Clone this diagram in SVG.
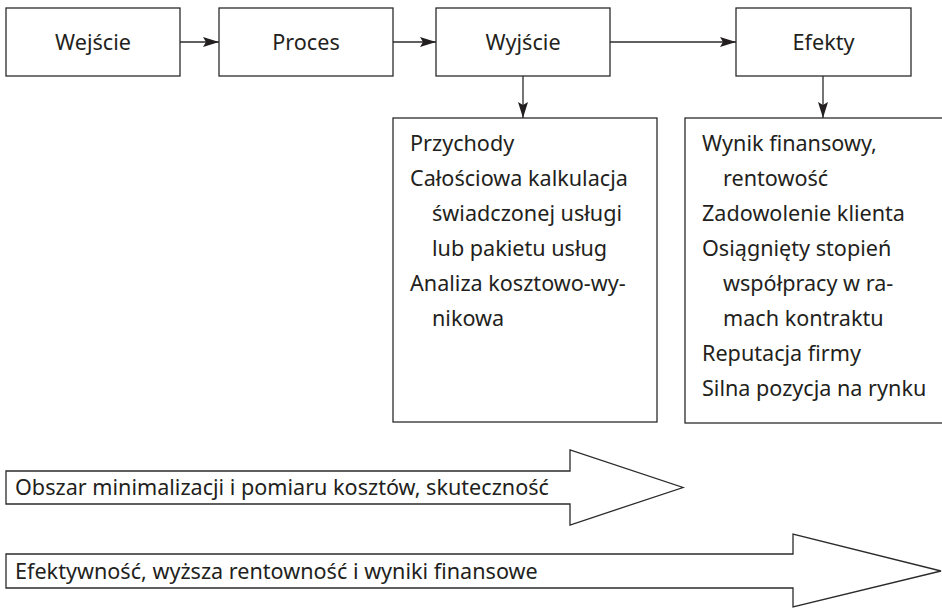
<svg xmlns="http://www.w3.org/2000/svg" width="942" height="608" viewBox="0 0 942 608">
  <style>
    .box { fill: #ffffff; stroke: #2b2b2b; stroke-width: 1.3; }
    .lbl { font-family: "Noto Sans", "Open Sans", sans-serif; font-size: 21.6px; fill: #231f20; }
    .mid { text-anchor: middle; }
    .link { fill: none; stroke: #2b2b2b; stroke-width: 1.3; }
  </style>
  <defs>
    <marker id="head" markerUnits="userSpaceOnUse" markerWidth="17" markerHeight="11" refX="16" refY="5" orient="auto">
      <path d="M0,0 L16,5 L0,10 L3,5 Z" fill="#231f20"/>
    </marker>
  </defs>
  <rect width="942" height="608" fill="#ffffff"/>

  <!-- top row of stages -->
  <g id="wejscie">
    <rect class="box" x="6" y="8" width="174" height="68"/>
    <text class="lbl mid" x="93" y="50">Wejście</text>
  </g>
  <g id="proces">
    <rect class="box" x="219" y="8" width="174" height="68"/>
    <text class="lbl mid" x="306" y="50">Proces</text>
  </g>
  <g id="wyjscie">
    <rect class="box" x="436" y="8" width="174" height="68"/>
    <text class="lbl mid" x="523" y="50">Wyjście</text>
  </g>
  <g id="efekty">
    <rect class="box" x="736" y="8" width="175" height="68"/>
    <text class="lbl mid" x="823.5" y="50">Efekty</text>
  </g>

  <!-- detail boxes -->
  <g id="wyjscie-detail">
    <rect class="box" x="393" y="118" width="264" height="304"/>
    <text class="lbl" x="410" y="151">Przychody</text>
    <text class="lbl" x="410" y="186">Całościowa kalkulacja</text>
    <text class="lbl" x="432" y="221">świadczonej usługi</text>
    <text class="lbl" x="432" y="256">lub pakietu usług</text>
    <text class="lbl" x="410" y="291">Analiza kosztowo-wy-</text>
    <text class="lbl" x="432" y="326">nikowa</text>
  </g>
  <g id="efekty-detail">
    <rect class="box" x="685" y="118" width="270" height="305"/>
    <text class="lbl" x="702" y="151">Wynik finansowy,</text>
    <text class="lbl" x="723" y="186">rentowość</text>
    <text class="lbl" x="702" y="221">Zadowolenie klienta</text>
    <text class="lbl" x="702" y="256">Osiągnięty stopień</text>
    <text class="lbl" x="723" y="291">współpracy w ra-</text>
    <text class="lbl" x="723" y="326">mach kontraktu</text>
    <text class="lbl" x="702" y="361">Reputacja firmy</text>
    <text class="lbl" x="702" y="396">Silna pozycja na rynku</text>
  </g>

  <!-- connectors -->
  <g id="connectors">
    <line class="link" x1="180" y1="42" x2="219" y2="42" marker-end="url(#head)"/>
    <line class="link" x1="393" y1="42" x2="436" y2="42" marker-end="url(#head)"/>
    <line class="link" x1="610" y1="42" x2="736" y2="42" marker-end="url(#head)"/>
    <line class="link" x1="523" y1="76" x2="523" y2="118" marker-end="url(#head)"/>
    <line class="link" x1="823" y1="76" x2="823" y2="118" marker-end="url(#head)"/>
  </g>

  <!-- block arrows -->
  <g id="arrow-koszty">
    <path class="box" d="M6,471 L570,471 L570,450 L683,487.5 L570,525 L570,504 L6,504 Z"/>
    <text class="lbl" x="15" y="495">Obszar minimalizacji i pomiaru kosztów, skuteczność</text>
  </g>
  <g id="arrow-efektywnosc">
    <path class="box" d="M6,554 L793,554 L793,534 L941,571 L793,607 L793,588 L6,588 Z"/>
    <text class="lbl" x="15" y="579">Efektywność, wyższa rentowność i wyniki finansowe</text>
  </g>
</svg>
